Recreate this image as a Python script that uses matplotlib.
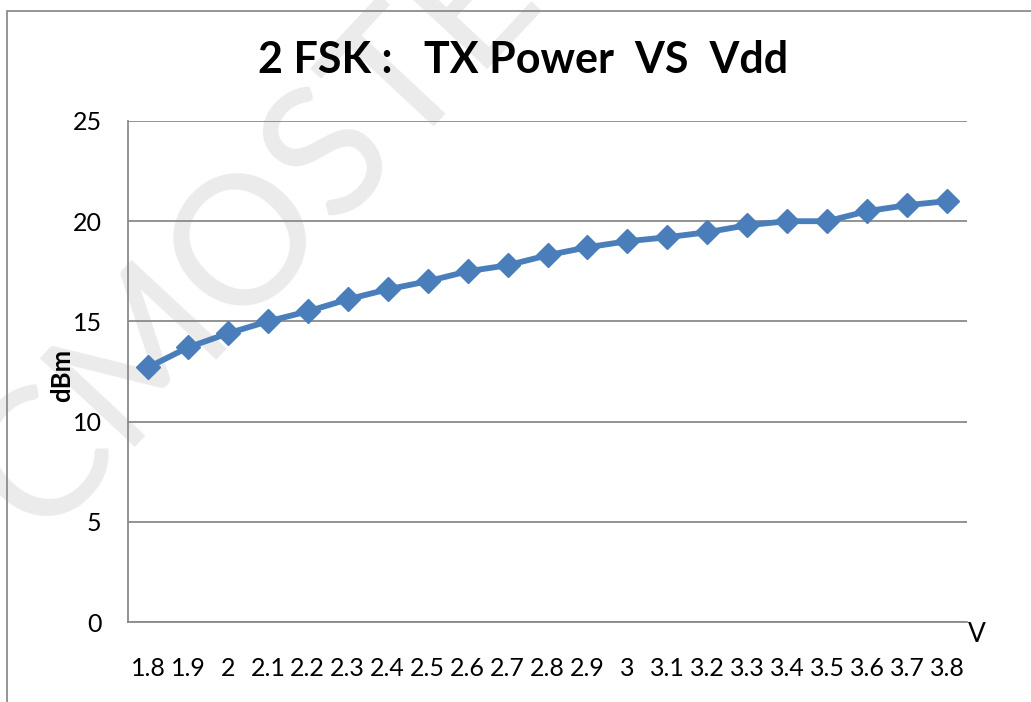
import matplotlib
matplotlib.use("Agg")
import matplotlib.pyplot as plt
from matplotlib.patches import Rectangle

voltages = ["1.8", "1.9", "2", "2.1", "2.2", "2.3", "2.4", "2.5", "2.6", "2.7", "2.8",
            "2.9", "3", "3.1", "3.2", "3.3", "3.4", "3.5", "3.6", "3.7", "3.8"]
tx_power = [12.7, 13.7, 14.4, 15.0, 15.5, 16.1, 16.6, 17.0, 17.5, 17.8, 18.3,
            18.7, 19.0, 19.2, 19.45, 19.8, 20.0, 20.0, 20.5, 20.8, 21.0]
yticks = [0, 5, 10, 15, 20, 25]

W, H = 1031, 702
plt.rcParams['font.family'] = ['Lato', 'DejaVu Sans']
fig = plt.figure(figsize=(W / 100, H / 100), dpi=100)
fig.patch.set_facecolor('white')

# watermark
fig.text(40 / W, 1 - 540 / H, "CMOSTEK", rotation=47, rotation_mode='anchor',
         ha='left', va='baseline', fontsize=130, color='#ebebeb', zorder=-2)

# outer frame
fig.patches.append(Rectangle((7 / W, -0.1), 1.2, (H - 11) / H + 0.1,
                             transform=fig.transFigure, fill=False,
                             edgecolor='#8c8c8c', linewidth=1.3, zorder=-1))

ax = fig.add_axes([128 / W, (H - 622) / H, (967 - 128) / W, (622 - 121) / H])
ax.patch.set_alpha(0)
x = list(range(len(voltages)))
ax.plot(x, tx_power, color='#4a7ebb', linewidth=4.2, marker='D', markersize=12,
        markeredgecolor='#4a7ebb', markerfacecolor='#4a7ebb', zorder=3)

ax.set_xlim(-0.5, len(voltages) - 0.5)
ax.set_ylim(0, 25)
ax.set_yticks(yticks)
ax.set_yticklabels([str(t) for t in yticks])
ax.set_xticks(x)
ax.set_xticklabels(voltages)
ax.tick_params(axis='both', length=0, labelsize=18)
ax.tick_params(axis='y', pad=19)
ax.tick_params(axis='x', pad=25)
ax.yaxis.grid(True, color='#8a8a8a', linewidth=1.3)
ax.set_axisbelow(True)
for s in ['top', 'right']:
    ax.spines[s].set_visible(False)
for s in ['left', 'bottom']:
    ax.spines[s].set_color('#8a8a8a')
    ax.spines[s].set_linewidth(1.3)

fig.text(523 / W, 1 - 73 / H, "2 FSK :   TX Power  VS  Vdd", ha='center', va='baseline',
         fontsize=31, fontweight='bold')
fig.text(62 / W, 1 - 375 / H, "dBm", rotation=90, ha='center', va='center',
         fontsize=18.5, fontweight='bold')
fig.text(968 / W, 1 - 642 / H, "V", ha='left', va='baseline', fontsize=19)

fig.savefig("out.png", dpi=100)
